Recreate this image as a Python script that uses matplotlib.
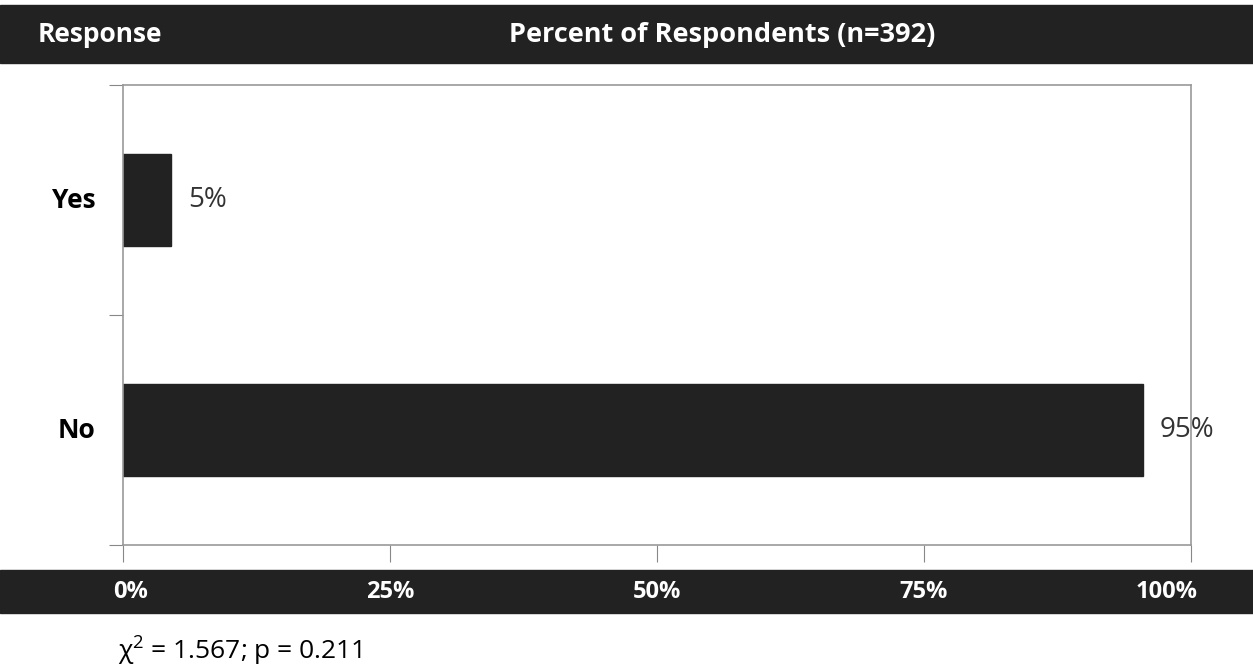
import matplotlib
matplotlib.use("Agg")
import matplotlib.pyplot as plt
from matplotlib.patches import Rectangle
import matplotlib.transforms as mtransforms

categories = ["Yes", "No"]
values = [4.5, 95.5]
value_labels = ["5%", "95%"]
xticks = [0, 25, 50, 75, 100]
xtick_labels = ["0%", "25%", "50%", "75%", "100%"]
header_left = "Response"
header_title = "Percent of Respondents (n=392)"
stat_text = "χ$^2$ = 1.567; p = 0.211"

plt.rcParams['font.family'] = ['Open Sans', 'DejaVu Sans']
plt.rcParams['mathtext.default'] = 'regular'
W, H = 1253, 670
fig = plt.figure(figsize=(W/100, H/100), dpi=100)
dark = "#222222"

def fx(px): return px / W
def fy(py): return 1 - py / H

# header bar
fig.patches.append(Rectangle((0, fy(63)), 1, (63-5)/H, transform=fig.transFigure,
                             color=dark, zorder=-5))
fig.text(fx(38), fy(42), header_left, color="white", fontsize=19, fontweight="bold",
         ha="left", va="baseline")
fig.text(fx(722), fy(42), header_title, color="white", fontsize=19.5, fontweight="bold",
         ha="center", va="baseline")

# bottom bar
fig.patches.append(Rectangle((0, fy(613)), 1, (613-570)/H, transform=fig.transFigure,
                             color=dark, zorder=-5))

ax = fig.add_axes([fx(123), fy(545), fx(1191)-fx(123), (545-85)/H])
ypos = [1, 0]
ax.barh(ypos, values, height=0.4, color=dark, edgecolor=dark)
ax.set_xlim(0, 100)
ax.set_ylim(-0.5, 1.5)
for y, v, lab in zip(ypos, values, value_labels):
    ax.text(v + 1.6, y, lab, va="center", ha="left", fontsize=20, color="#333333")

ax.set_xticks(xticks)
ax.set_xticklabels([])
ax.set_yticks([-0.5, 0.5, 1.5])
ax.set_yticklabels([])
ax.tick_params(axis="x", length=12, color="#888888", direction="out")
ax.tick_params(axis="y", length=10, color="#888888", direction="out")
for s in ax.spines.values():
    s.set_color("#999999")
    s.set_linewidth(1.2)

for y, c in zip(ypos, categories):
    ax.text(-2.6, y, c, ha="right", va="center", fontsize=19, fontweight="bold", color="black")

offsets = [8, 0, 0, 0, -24]
for t, lab, off in zip(xticks, xtick_labels, offsets):
    tr = mtransforms.offset_copy(ax.get_xaxis_transform(), fig=fig, x=off, y=0, units="dots")
    ax.text(t, (545 - 592) / (545 - 85), lab, transform=tr, ha="center", va="center",
            color="white", fontsize=17, fontweight="bold", clip_on=False, zorder=10)

fig.text(fx(118), fy(660), stat_text, fontsize=19, ha="left", va="baseline", color="black")

fig.savefig("out.png", dpi=100)
